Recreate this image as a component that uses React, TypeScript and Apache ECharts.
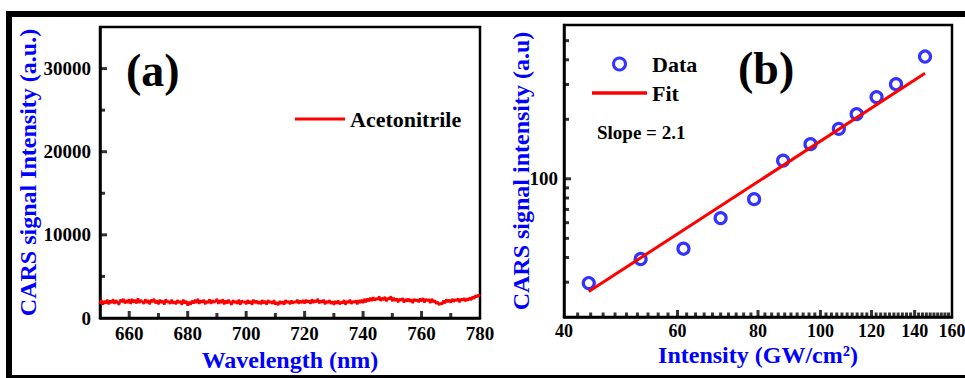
import React, { useEffect, useRef } from 'react';
import * as echarts from 'echarts';

const FONT = 'Liberation Serif';
const BLUE = '#0000ff';
const RED = '#ff0000';

// ---------- Panel (a): CARS spectrum of acetonitrile ----------
const WL_START = 650;
const WL_STEP = 0.5;
const acetonitrile = [
  1700, 2150, 1600, 2050, 1750, 2200, 1650, 2100, 1800, 2250, 1700, 2150, 1850, 1600, 2200, 1900, 2300, 1750, 2150, 1800,
  2250, 1700, 2300, 1850, 2200, 1750, 2350, 1800, 2150, 1950, 1700, 2250, 1800, 2150, 1650, 2200, 1900, 2300, 1750, 2100,
  1650, 2200, 1800, 2100, 1600, 2250, 1850, 2050, 1700, 2200, 1750, 2000, 1650, 2150, 1800, 2050, 1600, 2200, 1750, 2050,
  1500, 1950, 1600, 2100, 1750, 2200, 1800, 2300, 1700, 2100, 1850, 2200, 1650, 2050, 1800, 2250, 1700, 2150, 1850, 2000,
  2300, 1700, 2150, 1800, 2250, 1650, 2100, 1750, 2200, 1850, 1600, 2150, 1800, 2050, 1700, 2200, 1600, 2100, 1850, 2000,
  1650, 2150, 1750, 2050, 1600, 2200, 1800, 2100, 1700, 2000, 1650, 2150, 1750, 2050, 1600, 2150, 1800, 2000, 1700, 2150,
  1600, 1900, 1550, 2050, 1700, 2000, 1600, 2150, 1800, 2050, 1650, 2100, 1750, 2000, 1850, 2200, 1700, 2100, 1800, 2150,
  1750, 2200, 1850, 2100, 1700, 2250, 1800, 2150, 1900, 2300, 1750, 2100, 1850, 2200, 1650, 2050, 1800, 2150, 1700, 2000,
  1600, 2050, 1700, 2100, 1650, 1950, 1750, 2150, 1600, 2050, 1800, 2200, 1700, 2050, 1850, 2100, 1650, 2150, 1800, 2200,
  1800, 2300, 1900, 2350, 2000, 2450, 2050, 2500, 2100, 2400, 2200, 2600, 2050, 2450, 2150, 2550, 2000, 2400, 2250, 2600,
  2000, 2450, 2050, 2350, 1900, 2300, 2100, 2400, 1850, 2300, 2000, 2350, 1950, 2250, 1800, 2300, 2050, 2200, 1900, 2350,
  2000, 2400, 1850, 2300, 2050, 2250, 1800, 2300, 1900, 2150, 1700, 1950, 1550, 1800, 1650, 2100, 1750, 2250, 1900, 2200,
  1850, 2300, 1950, 2250, 2050, 2350, 1900, 2300, 2100, 2400, 2000, 2350, 2100, 2450, 2150, 2600, 2300, 2750, 2500, 2800,
  2600,
];
const A_X_MIN = 650;
const A_X_MAX = 780;
const A_Y_MIN = 0;
const A_Y_MAX = 35000;
const xMajorTickA = [660, 680, 700, 720, 740, 760];
const xMinorA = [670, 690, 710, 730, 750, 770];
const yMajorTickA = [10000, 20000, 30000];
const yMinorA = [5000, 15000, 25000];

// ---------- Panel (b): intensity dependence (log-log) ----------
const intensity = [43.7, 52.6, 61.3, 70.0, 78.9, 87.5, 96.5, 106.8, 113.8, 122.2, 131.0, 145.3];
const signal = [29.7, 39.3, 44.3, 63.3, 78.9, 123.7, 149.8, 179, 212.5, 259, 301, 415.5];
const fitX = [43.7, 145.3];
const fitY = [26.9, 342];
const B_X_MIN = 40;
const B_X_MAX = 160;
const B_Y_MIN = 20;
const B_Y_MAX = 600;
const xTicksB = [40, 60, 80, 100, 120, 140, 160];
const xMajorTickB = [60, 80, 100, 120, 140];
const xMinorB = [
  42, 44, 46, 48, 50, 52, 54, 56, 58, 62, 64, 66, 68, 70, 72, 74, 76, 78,
  82, 84, 86, 88, 90, 92, 94, 96, 98, 102, 104, 106, 108, 110, 112, 114, 116, 118,
  122, 124, 126, 128, 130, 132, 134, 136, 138, 142, 144, 146, 148, 150, 152, 154, 156, 158,
];
const yTicksB = [100];
const yMinorB = [30, 40, 50, 60, 70, 80, 90, 200, 300, 400, 500];

const tickLabelStyle = { color: '#000', fontFamily: FONT, fontWeight: 'bold' as const, fontSize: 19, lineHeight: 15 };
const nameStyle = { color: BLUE, fontFamily: FONT, fontWeight: 'bold' as const, fontSize: 24, lineHeight: 20 };

// inward tick marks: small black rectangles placed at tick values through the axes' scales
function xTickSeries(xi: number, yi: number, values: number[], yAt: number, len: number) {
  return {
    type: 'scatter', xAxisIndex: xi, yAxisIndex: yi, silent: true, clip: false, z: 10,
    data: values.map((v) => [v, yAt]),
    symbol: 'rect', symbolSize: [3, len], symbolOffset: [0, -len / 2],
    itemStyle: { color: '#000', borderWidth: 0 }, emphasis: { disabled: true },
  };
}
function yTickSeries(xi: number, yi: number, values: number[], xAt: number, len: number) {
  return {
    type: 'scatter', xAxisIndex: xi, yAxisIndex: yi, silent: true, clip: false, z: 10,
    data: values.map((v) => [xAt, v]),
    symbol: 'rect', symbolSize: [len, 3], symbolOffset: [len / 2, 0],
    itemStyle: { color: '#000', borderWidth: 0 }, emphasis: { disabled: true },
  };
}

export default function App() {
  const ref = useRef<HTMLDivElement>(null);
  useEffect(() => {
    if (!ref.current) return;
    const chart = echarts.init(ref.current, null, { renderer: 'svg' });
    const lineA = acetonitrile.map((v, i) => [WL_START + i * WL_STEP, v]);
    const dataB = intensity.map((x, i) => [x, signal[i]]);
    const fitB = fitX.map((x, i) => [x, fitY[i]]);
    const lineIcon = 'path://M0,0L50,0L50,3L0,3Z';

    const option: any = {
      animation: false,
      backgroundColor: '#fff',
      grid: [
        { left: 100, top: 27, width: 380, height: 291, show: true, borderColor: '#000', borderWidth: 2.5, backgroundColor: 'transparent' },
        { left: 564, top: 25, width: 388, height: 292, show: true, borderColor: '#000', borderWidth: 2.5, backgroundColor: 'transparent' },
      ],
      xAxis: [
        {
          type: 'value', gridIndex: 0, min: A_X_MIN, max: A_X_MAX, interval: 10, position: 'bottom',
          axisLine: { show: true, lineStyle: { color: '#000', width: 2.5 } },
          axisTick: { show: false },
          axisLabel: { ...tickLabelStyle, margin: 8, interval: 0, formatter: (v: number) => (v % 20 === 0 ? String(v) : '') },
          splitLine: { show: false },
          name: 'Wavelength (nm)', nameLocation: 'middle', nameGap: 25, nameTextStyle: nameStyle,
        },
        {
          type: 'log', logBase: 10, gridIndex: 1, min: B_X_MIN, max: B_X_MAX, position: 'bottom',
          axisLine: { show: true, lineStyle: { color: '#000', width: 2.5 } },
          axisTick: { show: false },
          axisLabel: { show: false },
          splitLine: { show: false },
          name: 'Intensity (GW/cm²)', nameLocation: 'middle', nameGap: 28, nameTextStyle: nameStyle,
        },
      ],
      yAxis: [
        {
          type: 'value', gridIndex: 0, min: A_Y_MIN, max: A_Y_MAX, interval: 10000, position: 'left',
          axisLine: { show: true, lineStyle: { color: '#000', width: 2.5 } },
          axisTick: { show: false },
          axisLabel: { ...tickLabelStyle, margin: 9, formatter: (v: number) => (v > 30000 ? '' : String(v)) },
          splitLine: { show: false },
          name: 'CARS signal Intensity (a.u.)', nameLocation: 'middle', nameGap: 60, nameTextStyle: nameStyle,
        },
        {
          type: 'log', logBase: 10, gridIndex: 1, min: B_Y_MIN, max: B_Y_MAX, position: 'left',
          axisLine: { show: true, lineStyle: { color: '#000', width: 2.5 } },
          axisTick: { show: false },
          axisLabel: { show: false },
          splitLine: { show: false },
          name: 'CARS signal intensity (a.u)', nameLocation: 'middle', nameGap: 33, nameTextStyle: nameStyle,
        },
      ],
      legend: [
        {
          data: [{ name: 'Acetonitrile', icon: lineIcon }], left: 295, top: 108, padding: 0,
          itemWidth: 50, itemHeight: 14, itemGap: 6,
          textStyle: { color: '#000', fontFamily: FONT, fontWeight: 'bold', fontSize: 22 },
          selectedMode: false,
        },
        {
          data: [{ name: 'Data', itemStyle: { borderWidth: 3 } }, { name: 'Fit', icon: lineIcon }],
          orient: 'vertical', left: 592, top: 53, padding: 0,
          itemWidth: 55, itemHeight: 12, itemGap: 7,
          textStyle: { color: '#000', fontFamily: FONT, fontWeight: 'bold', fontSize: 22 },
          selectedMode: false,
        },
      ],
      graphic: [
        { type: 'rect', shape: { x: 9, y: 14, width: 966, height: 364 }, style: { fill: 'none', stroke: '#000', lineWidth: 6 }, silent: true },
        { type: 'text', left: 126, top: 47, style: { text: '(a)', fill: '#000', font: "bold 46px 'Liberation Serif'" } },
        { type: 'text', left: 738, top: 45, style: { text: '(b)', fill: '#000', font: "bold 46px 'Liberation Serif'" } },
        { type: 'text', left: 597, top: 123, style: { text: 'Slope = 2.1', fill: '#000', font: "bold 19px 'Liberation Serif'" } },
      ],
      series: [
        {
          name: 'Acetonitrile', type: 'line', xAxisIndex: 0, yAxisIndex: 0,
          data: lineA, symbol: 'none', lineStyle: { color: RED, width: 2.5 }, itemStyle: { color: RED },
        },
        {
          name: 'Data', type: 'scatter', xAxisIndex: 1, yAxisIndex: 1,
          data: dataB, symbol: 'circle', symbolSize: 11,
          itemStyle: { color: 'rgba(0,0,0,0)', borderColor: BLUE, borderWidth: 3.2 },
        },
        {
          name: 'Fit', type: 'line', xAxisIndex: 1, yAxisIndex: 1,
          data: fitB, symbol: 'none', lineStyle: { color: RED, width: 3 }, itemStyle: { color: RED },
        },
        // panel (a) ticks, inward
        xTickSeries(0, 0, xMajorTickA, A_Y_MIN, 7),
        xTickSeries(0, 0, xMinorA, A_Y_MIN, 5),
        yTickSeries(0, 0, yMajorTickA, A_X_MIN, 7),
        yTickSeries(0, 0, yMinorA, A_X_MIN, 5),
        // panel (b) ticks, inward
        xTickSeries(1, 1, xMajorTickB, B_Y_MIN, 7),
        xTickSeries(1, 1, xMinorB, B_Y_MIN, 4.5),
        yTickSeries(1, 1, yTicksB, B_X_MIN, 7),
        yTickSeries(1, 1, yMinorB, B_X_MIN, 5),
        // panel (b) tick labels on the log axes
        {
          type: 'custom', xAxisIndex: 1, yAxisIndex: 1, silent: true, clip: false,
          data: xTicksB.map((v) => [v, B_Y_MIN]),
          renderItem: (params: any, api: any) => {
            const v = api.value(0);
            const p = api.coord([v, api.value(1)]);
            return {
              type: 'text', x: p[0], y: p[1] + 6,
              style: { text: String(v), fill: '#000', fontFamily: FONT, fontWeight: 'bold', fontSize: 18, lineHeight: 15, align: 'center', verticalAlign: 'top' },
            };
          },
        },
        {
          type: 'custom', xAxisIndex: 1, yAxisIndex: 1, silent: true, clip: false,
          data: yTicksB.map((v) => [B_X_MIN, v]),
          renderItem: (params: any, api: any) => {
            const v = api.value(1);
            const p = api.coord([api.value(0), v]);
            return {
              type: 'text', x: p[0] - 6, y: p[1],
              style: { text: String(v), fill: '#000', fontFamily: FONT, fontWeight: 'bold', fontSize: 19, align: 'right', verticalAlign: 'middle' },
            };
          },
        },
      ],
    };
    chart.setOption(option);
    return () => chart.dispose();
  }, []);
  return <div ref={ref} style={{ position: 'fixed', left: 0, top: 0, width: 965, height: 378, background: '#fff' }} />;
}
